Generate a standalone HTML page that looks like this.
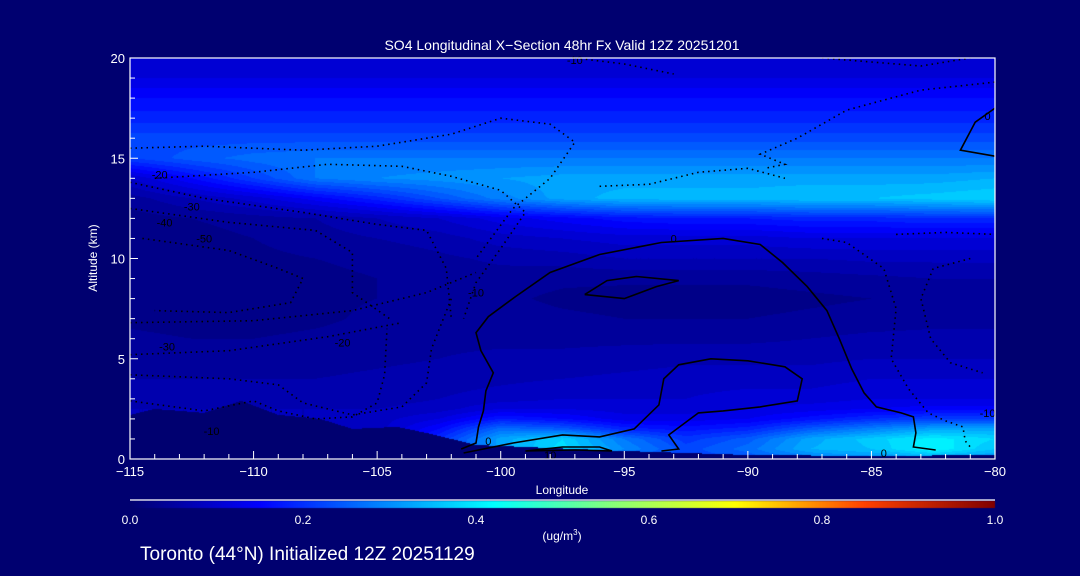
<!DOCTYPE html>
<html><head><meta charset="utf-8">
<style>
html,body{margin:0;padding:0;background:#000070;}
#wrap{position:relative;width:1080px;height:576px;background:#000070;overflow:hidden;font-family:"Liberation Sans",sans-serif;color:#fff;}
canvas{position:absolute;left:0;top:0;}
svg{position:absolute;left:0;top:0;}
</style></head>
<body>
<div id="wrap">
<canvas id="cv" width="1080" height="576"></canvas>
<svg id="sv" width="1080" height="576"></svg>
</div>
<script>
// ---- data ----
const lons = [-115,-112.5,-110,-107.5,-105,-102.5,-100,-97.5,-95,-92.5,-90,-87.5,-85,-82.5,-80];
const alts = [20,19,18,17,16,15,14,13,12,11,10,9,8,7,6,5,4,3,2.5,2,1.5,1,0.5,0];
const so4 = [
[0.10,0.10,0.10,0.10,0.10,0.10,0.10,0.10,0.10,0.10,0.10,0.10,0.10,0.10,0.10],
[0.12,0.12,0.12,0.12,0.12,0.12,0.12,0.12,0.12,0.12,0.12,0.12,0.12,0.12,0.12],
[0.16,0.16,0.16,0.16,0.16,0.16,0.16,0.16,0.16,0.16,0.16,0.16,0.16,0.16,0.16],
[0.19,0.19,0.19,0.19,0.19,0.19,0.19,0.19,0.19,0.19,0.19,0.19,0.19,0.19,0.19],
[0.23,0.23,0.23,0.23,0.23,0.23,0.23,0.23,0.23,0.23,0.23,0.23,0.23,0.23,0.23],
[0.22,0.25,0.27,0.28,0.28,0.28,0.28,0.28,0.28,0.28,0.28,0.28,0.28,0.28,0.28],
[0.10,0.16,0.22,0.28,0.30,0.31,0.32,0.33,0.33,0.33,0.33,0.33,0.33,0.33,0.34],
[0.05,0.08,0.11,0.15,0.19,0.24,0.29,0.33,0.35,0.35,0.35,0.36,0.36,0.37,0.38],
[0.03,0.04,0.05,0.06,0.08,0.10,0.13,0.15,0.17,0.18,0.18,0.19,0.19,0.20,0.20],
[0.03,0.03,0.04,0.05,0.06,0.07,0.09,0.10,0.11,0.11,0.11,0.12,0.12,0.12,0.12],
[0.03,0.03,0.035,0.04,0.045,0.055,0.065,0.07,0.08,0.08,0.08,0.08,0.085,0.085,0.085],
[0.03,0.03,0.03,0.035,0.04,0.045,0.05,0.045,0.045,0.045,0.045,0.05,0.055,0.06,0.06],
[0.03,0.03,0.03,0.035,0.04,0.045,0.045,0.035,0.03,0.03,0.03,0.035,0.04,0.05,0.05],
[0.035,0.03,0.03,0.035,0.045,0.05,0.05,0.045,0.04,0.04,0.04,0.045,0.05,0.055,0.055],
[0.045,0.04,0.04,0.045,0.05,0.055,0.055,0.055,0.055,0.055,0.055,0.06,0.065,0.065,0.065],
[0.05,0.05,0.05,0.05,0.055,0.06,0.065,0.065,0.07,0.075,0.075,0.075,0.08,0.08,0.08],
[0.06,0.06,0.06,0.06,0.065,0.07,0.075,0.08,0.085,0.09,0.09,0.09,0.10,0.10,0.10],
[0.07,0.07,0.07,0.07,0.07,0.08,0.09,0.10,0.10,0.10,0.11,0.11,0.12,0.12,0.12],
[0.08,0.08,0.08,0.08,0.08,0.09,0.12,0.12,0.11,0.11,0.12,0.13,0.14,0.15,0.15],
[0.08,0.08,0.08,0.08,0.09,0.12,0.18,0.16,0.13,0.13,0.14,0.17,0.20,0.22,0.22],
[0.08,0.08,0.08,0.08,0.09,0.16,0.27,0.25,0.19,0.17,0.19,0.25,0.29,0.33,0.33],
[0.08,0.08,0.08,0.08,0.09,0.20,0.33,0.38,0.28,0.21,0.25,0.33,0.37,0.41,0.38],
[0.08,0.08,0.08,0.08,0.09,0.20,0.33,0.39,0.30,0.23,0.27,0.34,0.36,0.42,0.36],
[0.08,0.08,0.08,0.08,0.09,0.15,0.25,0.28,0.25,0.22,0.24,0.28,0.30,0.32,0.30]
];
const terrainLons = [-115,-114,-112,-110.5,-109,-107.3,-106,-104.2,-103,-102,-101,-100,-98,-95,-90,-85,-80];
const terrainAlt  = [2.2,2.5,2.3,2.9,2.2,2.0,1.5,1.6,1.3,1.0,0.7,0.65,0.55,0.4,0.2,0.15,0.2];
const xTicks = [-115,-110,-105,-100,-95,-90,-85,-80];
const yTicks = [0,5,10,15,20];
const cbTicks = [0.0,0.2,0.4,0.6,0.8,1.0];
const contourSolid = [
 [[-101.6,0.5],[-101,0.8],[-100.9,1.6],[-100.7,2.4],[-100.6,3.4],[-100.3,4.3],[-100.8,5.4],[-101,6.3],[-100.5,7.1],[-99.4,8.1],[-98,9.3],[-96,10.2],[-93.5,10.8],[-91,11],[-89.5,10.7],[-88.6,9.8],[-87.6,8.6],[-86.8,7.4],[-86.3,6],[-85.8,4.5],[-85.3,3.3],[-84.8,2.6],[-83.8,2.3],[-83.3,2.1],[-83.2,1.3],[-83.3,0.6],[-82.4,0.45]],
 [[-96.6,8.2],[-95.7,8.9],[-94.5,9.1],[-92.8,8.9],[-93.7,8.6],[-95,8.0],[-96.6,8.2]],
 [[-101.5,0.3],[-99.5,0.8],[-97.5,1.2],[-96,1.1],[-94.6,1.5],[-93.6,2.7],[-93.4,4],[-92.8,4.7],[-91.5,5.0],[-90,4.9],[-88.5,4.6],[-87.8,4.0],[-88,2.9],[-89.5,2.6],[-91,2.4],[-92,2.3],[-93.2,1.2],[-92.8,0.5],[-93.5,0.4]],
 [[-99,0.4],[-97.5,0.6],[-96,0.6],[-95.5,0.4],[-97,0.45],[-99,0.4]],
 [[-80,17.5],[-80.8,16.8],[-81.4,15.4],[-80,15.1]]
];
const contourDotted = [
 [[-115,15.5],[-112,15.6],[-108,15.4],[-105,15.6],[-102,16.2],[-100,17],[-98,16.7],[-97,15.8],[-98,14],[-99.5,12.5],[-101,10]],
 [[-114,14.0],[-110,14.3],[-107,14.7],[-104,14.6],[-102,14.1],[-100,13.4],[-99,12.3],[-100,10.5],[-101,8.8],[-101.5,7]],
 [[-115,13.8],[-112,13.0],[-108,12.3],[-105,11.7],[-103,11.4],[-102.2,9.5],[-102,7]],
 [[-115,12.5],[-111,11.8],[-107.5,11.4],[-106,10.3],[-106,8.3],[-104.5,7]],
 [[-114.5,11],[-111,10.4],[-109,9.5],[-108,9],[-108.5,7.8],[-111,7.3],[-114,7.4]],
 [[-115,6.8],[-110,6.9],[-106,7.4],[-103,8.3],[-101,9.3]],
 [[-115,5.2],[-111,5.4],[-107,6.1],[-104,6.8]],
 [[-115,4.2],[-111,4.0],[-109,3.7],[-108,2.8],[-106,2.2],[-104,2.6],[-103,3.8],[-102.8,5.5],[-102,8]],
 [[-115,2.9],[-112,2.4],[-110,2.9],[-109,2.4],[-107.5,2.0],[-106,2.1],[-105,2.8],[-104.7,4.2],[-104.6,6.5]],
 [[-97,20],[-95,19.7],[-93,19.2]],
 [[-87,20],[-85,19.8],[-83,19.6],[-81,20]],
 [[-80,18.8],[-83,18.4],[-86,17.4],[-88,16],[-89.5,15.2],[-88.5,14.7],[-89.3,14.5]],
 [[-84,11.2],[-82,11.3],[-80,11.2]],
 [[-87,11],[-86,10.8],[-84.5,9.5],[-84,7.5],[-84.2,5],[-83.5,3.5],[-82.7,2.3],[-82,1.9],[-81.3,1.6],[-81.2,0.9],[-81,0.6]],
 [[-81,10],[-82.5,9.5],[-83,8],[-82.6,6],[-81.8,4.8],[-80.5,4.3]],
 [[-96,13.6],[-94,13.7],[-92,14.3],[-90,14.5],[-88.5,14]]
];

// ---- scales ----
const X0=130,X1=995,Y0=459,Y1=58;
const xs = l => X0 + (l - (-115)) / 35 * (X1 - X0);
const ys = a => Y0 - a / 20 * (Y0 - Y1);
const lonOf = x => -115 + (x - X0) / (X1 - X0) * 35;
const altOf = y => (Y0 - y) / (Y0 - Y1) * 20;

const stops=[[0,[0,0,112]],[0.15,[0,0,255]],[0.42,[0,255,255]],[0.55,[128,255,128]],[0.7,[255,255,0]],[0.85,[255,64,0]],[1,[128,0,0]]];
function cmap(v){
  v=Math.max(0,Math.min(1,v));
  for(let i=1;i<stops.length;i++){
    if(v<=stops[i][0]){const a=stops[i-1],b=stops[i];const t=(v-a[0])/(b[0]-a[0]);
      return a[1].map((c,k)=>Math.round(c+(b[1][k]-c)*t));}
  }
  return stops[stops.length-1][1];
}
function sample(lon,alt){
  let i=0; while(i<lons.length-2 && lon>lons[i+1]) i++;
  let tx=(lon-lons[i])/(lons[i+1]-lons[i]); tx=Math.max(0,Math.min(1,tx));
  let j=0; while(j<alts.length-2 && alt<alts[j+1]) j++;
  let ty=(alts[j]-alt)/(alts[j]-alts[j+1]); ty=Math.max(0,Math.min(1,ty));
  const a=so4[j][i],b=so4[j][i+1],c=so4[j+1][i],d=so4[j+1][i+1];
  return (a*(1-tx)+b*tx)*(1-ty)+(c*(1-tx)+d*tx)*ty;
}
function terrainAt(lon){
  for(let i=1;i<terrainLons.length;i++){ if(lon<=terrainLons[i]){const t=(lon-terrainLons[i-1])/(terrainLons[i]-terrainLons[i-1]);return terrainAlt[i-1]+(terrainAlt[i]-terrainAlt[i-1])*t;} }
  return terrainAlt[terrainAlt.length-1];
}
const cv=document.getElementById('cv'),ctx=cv.getContext('2d');
const img=ctx.createImageData(X1-X0,Y0-Y1);
for(let y=Y1;y<Y0;y++){for(let x=X0;x<X1;x++){
  const lon=lonOf(x+0.5),alt=altOf(y+0.5);
  let col;
  if(alt<terrainAt(lon)) col=[0,0,112];
  else {let v=sample(lon,alt); v=Math.floor(v/0.02)*0.02+0.005; col=cmap(v);}
  const p=((y-Y1)*(X1-X0)+(x-X0))*4; img.data[p]=col[0];img.data[p+1]=col[1];img.data[p+2]=col[2];img.data[p+3]=255;
}}
ctx.putImageData(img,X0,Y1);
// colorbar
const cb=ctx.createImageData(X1-X0,7);
for(let x=0;x<X1-X0;x++){const c=cmap(x/(X1-X0-1));for(let y=0;y<7;y++){const p=(y*(X1-X0)+x)*4;cb.data[p]=c[0];cb.data[p+1]=c[1];cb.data[p+2]=c[2];cb.data[p+3]=255;}}
ctx.putImageData(cb,X0,501);

// ---- svg overlay ----
const NS='http://www.w3.org/2000/svg',sv=document.getElementById('sv');
function mk(tag,attrs,parent){const e=document.createElementNS(NS,tag);for(const k in attrs)e.setAttribute(k,attrs[k]);(parent||sv).appendChild(e);return e;}
const pts = arr => arr.map(p=>xs(p[0]).toFixed(1)+','+ys(p[1]).toFixed(1)).join(' ');
contourDotted.forEach(c=>{
  const e=mk('polyline',{points:pts(c),fill:'none',stroke:'#000',"stroke-width":1.6,"stroke-dasharray":'1.5 4'});
  
  
});
contourSolid.forEach(c=>{
  const e=mk('polyline',{points:pts(c),fill:'none',stroke:'#000',"stroke-width":1.6});
  
  
});
// contour labels
[["-20",-113.8,14.2],["-30",-112.5,12.6],["-40",-113.6,11.8],["-50",-112,11],["-30",-113.5,5.6],["-20",-106.4,5.8],["-10",-101,8.3],["-10",-111.7,1.4],["0",-100.5,0.9],["10",-98,0.2],["0",-93,11],["0",-84.5,0.3],["0",-80.3,17.1],["-10",-97,19.9],["-10",-80.3,2.3]].forEach(l=>{
  const t=mk('text',{x:xs(l[1]),y:ys(l[2])+4,fill:'#000',"font-size":11,"text-anchor":'middle'});t.textContent=l[0];
  
  
});
// frame
const fr=mk('rect',{x:X0,y:Y1,width:X1-X0,height:Y0-Y1,fill:'none',stroke:'#fff',"stroke-width":1.2});


// x ticks
for(let l=-115;l<=-80;l++){const maj=(l%5===0);
  const t=mk('line',{x1:xs(l),x2:xs(l),y1:Y0,y2:Y0-(maj?8:5),stroke:'#fff',"stroke-width":1});
  
  
}
xTicks.forEach(l=>{const t=mk('text',{x:xs(l),y:Y0+17,fill:'#fff',"font-size":13,"text-anchor":'middle'});t.textContent=(l<0?'\u2212'+(-l):l);
  
  });
for(let a=0;a<=20;a++){const maj=(a%5===0);
  const t=mk('line',{x1:X0,x2:X0+(maj?8:5),y1:ys(a),y2:ys(a),stroke:'#fff',"stroke-width":1});
  
  
}
yTicks.forEach(a=>{const t=mk('text',{x:X0-5,y:ys(a)+5,fill:'#fff',"font-size":13,"text-anchor":'end'});t.textContent=a;
  
  });
// colorbar line + labels
const cl=mk('line',{x1:X0,x2:X1,y1:500,y2:500,stroke:'#fff',"stroke-width":1.2});


cbTicks.forEach(v=>{const t=mk('text',{x:X0+v*(X1-X0),y:524,fill:'#fff',"font-size":12,"text-anchor":'middle'});t.textContent=v.toFixed(1);
  
  });
</script>
<svg width="1080" height="576" style="position:absolute;left:0;top:0">
<text x="562" y="50" fill="#fff" font-size="14" text-anchor="middle" font-family="Liberation Sans, sans-serif">SO4 Longitudinal X&#8722;Section 48hr  Fx Valid 12Z 20251201</text>
<text x="562" y="494" fill="#fff" font-size="12" text-anchor="middle" font-family="Liberation Sans, sans-serif">Longitude</text>
<text x="97" y="258" fill="#fff" font-size="12" text-anchor="middle" transform="rotate(-90 97 258)" font-family="Liberation Sans, sans-serif">Altitude (km)</text>
<text x="562" y="540" fill="#fff" font-size="12" text-anchor="middle" font-family="Liberation Sans, sans-serif">(ug/m<tspan font-size="8" dy="-5">3</tspan><tspan dy="5">)</tspan></text>
<text x="140" y="560" fill="#fff" font-size="19" font-family="Liberation Sans, sans-serif">Toronto (44°N) Initialized 12Z 20251129</text>
</svg>
</body></html>
